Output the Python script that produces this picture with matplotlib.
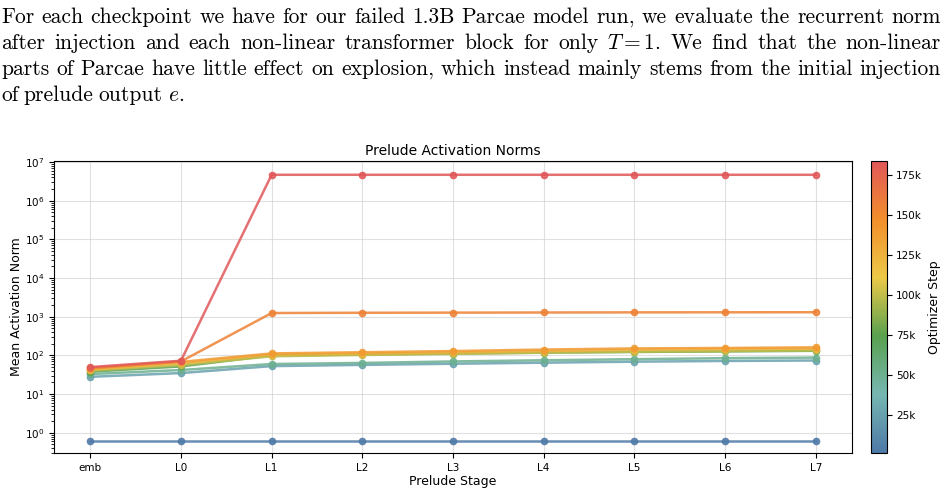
import numpy as np
import matplotlib
matplotlib.use('Agg')
import matplotlib.pyplot as plt
from matplotlib.colors import LinearSegmentedColormap, Normalize
from matplotlib.ticker import FuncFormatter

# texto del parrafo
para_lines = [
    "For each checkpoint we have for our failed 1.3B Parcae model run, we evaluate the recurrent norm",
    "after injection and each non-linear transformer block for only $T=1$. We find that the non-linear",
    "parts of Parcae have little effect on explosion, which instead mainly stems from the initial injection",
    "of prelude output $e$.",
]

# datos
stages = ["emb", "L0", "L1", "L2", "L3", "L4", "L5", "L6", "L7"]
steps = [1000, 25000, 50000, 75000, 100000, 125000, 140000, 155000, 184000]
norm_1k = [0.63, 0.63, 0.63, 0.63, 0.63, 0.63, 0.63, 0.63, 0.63]
norm_25k = [28, 35, 53, 57, 61, 65, 69, 72, 74]
norm_50k = [33, 42, 60, 64, 70, 75, 80, 85, 88]
norm_75k = [38, 52, 100, 106, 112, 118, 123, 127, 132]
norm_100k = [41, 57, 95, 103, 110, 118, 125, 130, 135]
norm_125k = [43, 63, 105, 112, 120, 130, 140, 146, 150]
norm_140k = [46, 68, 113, 121, 130, 142, 152, 156, 162]
norm_155k = [47, 70, 1250, 1270, 1280, 1290, 1300, 1305, 1310]
norm_184k = [50, 73, 4.7e6, 4.7e6, 4.7e6, 4.7e6, 4.7e6, 4.7e6, 4.7e6]
all_norms = [norm_1k, norm_25k, norm_50k, norm_75k, norm_100k,
             norm_125k, norm_140k, norm_155k, norm_184k]

cbar_ticks = [25000, 50000, 75000, 100000, 125000, 150000, 175000]

W, H = 948, 493
fig = plt.figure(figsize=(W / 100, H / 100), dpi=100)

# colormap tipo tableau
cmap = LinearSegmentedColormap.from_list(
    "steps", ["#4e79a7", "#76b7b2", "#59a14f", "#edc948", "#f28e2b", "#e15759"])
norm = Normalize(vmin=1000, vmax=184000)

ax = fig.add_axes([54 / W, 1 - 453 / H, (852 - 54) / W, (453 - 160.5) / H])
cax = fig.add_axes([871 / W, 1 - 453 / H, 15.5 / W, (453 - 160.5) / H])

x = np.arange(len(stages))
for s, vals in zip(steps, all_norms):
    ax.plot(x, vals, '-o', color=cmap(norm(s)), lw=1.8, ms=4.5, alpha=0.85)

ax.set_yscale('log')
ax.set_ylim(0.3, 1.1e7)
ax.set_xticks(x)
ax.set_xticklabels(stages)
ax.tick_params(labelsize=7.5, length=3.5)
ax.tick_params(which='minor', length=2)
ax.grid(True, color='#cccccc', alpha=0.6, lw=0.8)
ax.set_axisbelow(True)
ax.set_xlabel("Prelude Stage", fontsize=9, labelpad=2)
ax.set_ylabel("Mean Activation Norm", fontsize=9, labelpad=1.5)
ax.set_title("Prelude Activation Norms", fontsize=10, pad=4)

sm = plt.cm.ScalarMappable(cmap=cmap, norm=norm)
cb = fig.colorbar(sm, cax=cax)
cb.set_ticks(cbar_ticks)
cb.ax.yaxis.set_major_formatter(FuncFormatter(lambda v, p: "%dk" % round(v / 1000)))
cb.ax.tick_params(labelsize=7.5, length=3.5)
cb.set_label("Optimizer Step", fontsize=9)

# parrafo justificado
renderer = fig.canvas.get_renderer()
fs = 15.5
baselines = [23, 49, 75, 101]
x0, x1 = 1, 941
for i, line in enumerate(para_lines):
    words = line.split(' ')
    ts = [fig.text(0, 1 - baselines[i] / H, w, fontsize=fs, family='cmr10',
                   math_fontfamily='cm', va='baseline') for w in words]
    widths = [t.get_window_extent(renderer).width for t in ts]
    if i == len(para_lines) - 1:
        gap = fs * 0.33
    else:
        gap = (x1 - x0 - sum(widths)) / (len(words) - 1)
    xp = x0
    for t, w in zip(ts, widths):
        t.set_x(xp / W)
        xp += w + gap

fig.savefig("out.png", dpi=100)
